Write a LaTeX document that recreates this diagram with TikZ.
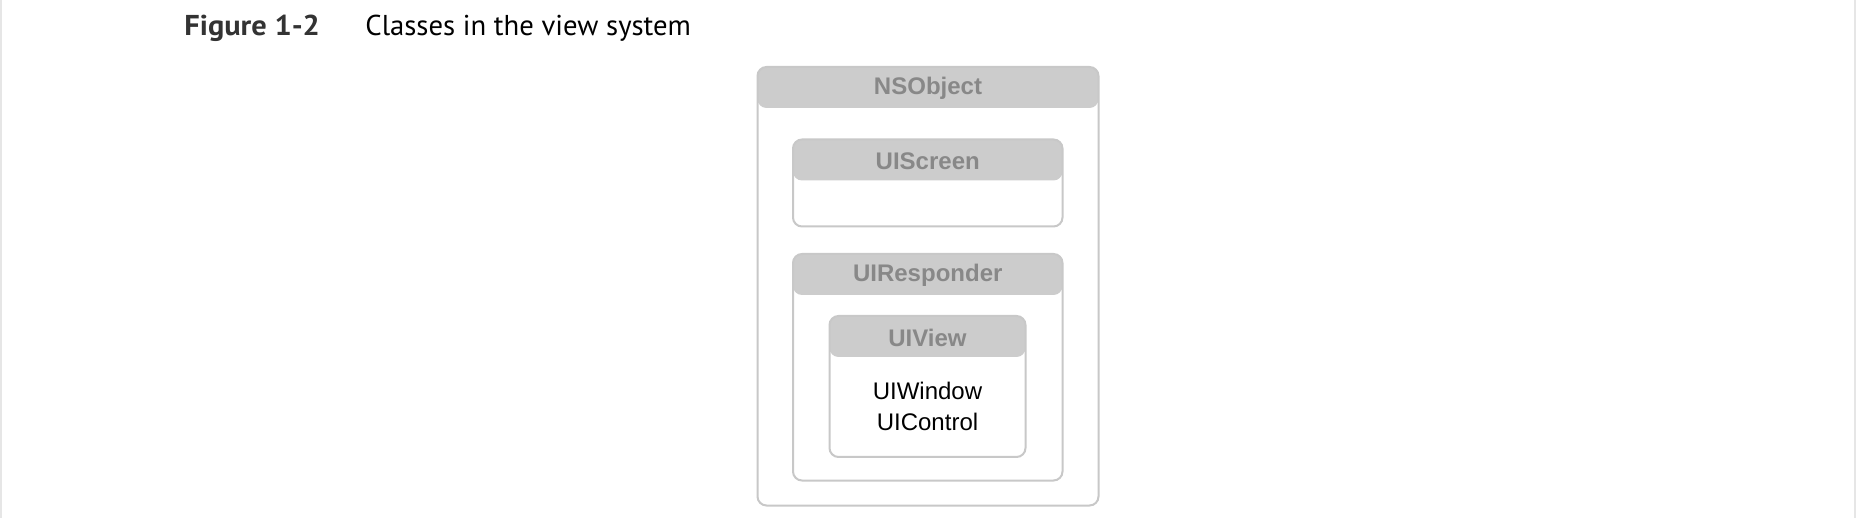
\documentclass[tikz,border=0pt]{standalone}
\usepackage{fontspec}
\setmainfont{Liberation Sans}
\newfontfamily\titlefont{PT Sans}
\definecolor{hdrfill}{HTML}{CCCCCC}
\definecolor{boxline}{HTML}{C8C8C8}
\definecolor{hdrtext}{HTML}{888888}
\definecolor{edgegray}{HTML}{E6E6E6}
\definecolor{figgray}{HTML}{333333}
\tikzset{
  classbox/.style={draw=boxline, line width=1bp, rounded corners=4.5bp, inner sep=0pt,
    path picture={\fill[hdrfill] (path picture bounding box.north west) rectangle ([yshift=-20.5bp]path picture bounding box.north east);}},
  hdrlabel/.style={font=\bfseries\fontsize{12bp}{14bp}\selectfont, text=hdrtext, inner sep=0pt, anchor=center},
  bodytext/.style={font=\fontsize{12bp}{15.5bp}\selectfont, text=black, align=center, inner sep=0pt},
  titletext/.style={font=\titlefont\fontsize{14.35bp}{16bp}\selectfont, inner sep=0pt, anchor=base west}
}
\begin{document}
\begin{tikzpicture}[x=0.5bp,y=-0.5bp]
\useasboundingbox (0,0) rectangle (1856,518);
\fill[white] (0,0) rectangle (1856,518);
\fill[edgegray] (0,0) rectangle (2.5,518);
\fill[edgegray] (1853.5,0) rectangle (1856,518);
% title
\node[titletext, text=figgray, font=\titlefont\bfseries\fontsize{14.35bp}{16bp}\selectfont] (fig) at (184,36) {\scalebox{1.06}[1]{Figure 1-2}};
\node[titletext, text=black] (cap) at (365,36) {Classes in the view system};
% boxes
\node[classbox, minimum width=170.5bp, minimum height=219.25bp] (ns) at (928,286.25) {};
\node[classbox, minimum width=134.75bp, minimum height=43.5bp] (scr) at (927.75,183) {};
\node[classbox, minimum width=134.75bp, minimum height=113.25bp] (resp) at (927.75,367.25) {};
\node[classbox, minimum width=98bp, minimum height=70.5bp] (view) at (927.5,386.5) {};
% header labels
\node[hdrlabel] (nsl) at ([yshift=-11.25bp]ns.north) {NSObject};
\node[hdrlabel] (scrl) at ([yshift=-11.25bp]scr.north) {UIScreen};
\node[hdrlabel] (respl) at ([yshift=-11.25bp]resp.north) {UIResponder};
\node[hdrlabel] (viewl) at ([yshift=-11.25bp]view.north) {UIView};
% body text
\node[bodytext] (sub) at (927.5,406) {UIWindow\\UIControl};
\end{tikzpicture}
\end{document}
